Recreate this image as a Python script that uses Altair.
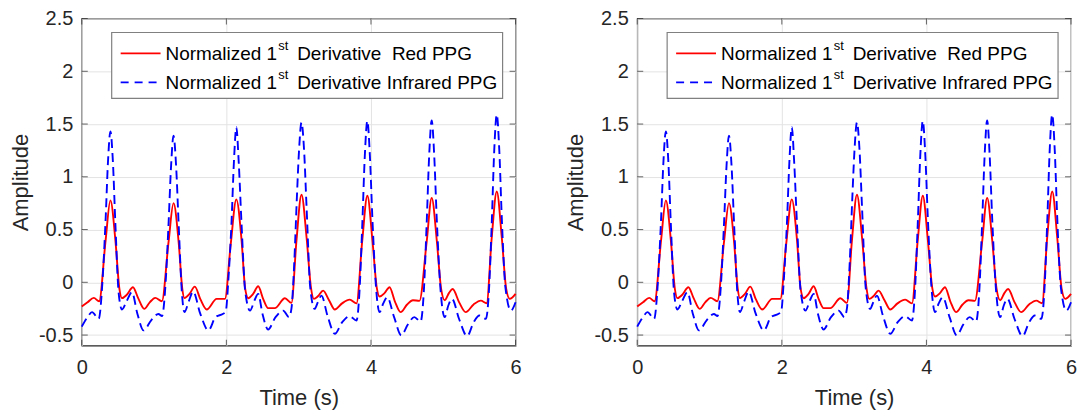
import altair as alt
import pandas as pd

# ---- data ----
red_t = [0.00, 0.08, 0.166, 0.24, 0.33, 0.396, 0.465, 0.52, 0.556, 0.62, 0.708, 0.78, 0.864, 0.94, 1.016, 1.108,
         1.20, 1.269, 1.34, 1.39, 1.42, 1.49, 1.564, 1.64, 1.728, 1.866, 1.98, 2.06, 2.138, 2.21, 2.26, 2.303,
         2.37, 2.44, 2.51, 2.577, 2.67, 2.81, 2.90, 2.97, 3.039, 3.11, 3.17, 3.21, 3.27, 3.338, 3.42, 3.50,
         3.60, 3.706, 3.80, 3.88, 3.95, 4.02, 4.08, 4.12, 4.19, 4.257, 4.33, 4.41, 4.50, 4.58, 4.67, 4.77,
         4.84, 4.91, 4.97, 5.02, 5.08, 5.13, 5.22, 5.31, 5.42, 5.52, 5.60, 5.67, 5.74, 5.81, 5.87, 5.92, 6.00]
red_v = [-0.23, -0.19, -0.148, -0.18, 0.40, 0.776, 0.40, -0.06, -0.15, -0.12, -0.047, -0.15, -0.252, -0.19, -0.148, -0.18,
         0.38, 0.75, 0.38, -0.06, -0.15, -0.11, -0.041, -0.16, -0.258, -0.157, -0.157, 0.36, 0.786, 0.40, -0.06, -0.151,
         -0.11, -0.038, -0.16, -0.245, -0.245, -0.151, -0.195, 0.40, 0.83, 0.42, -0.05, -0.157, -0.13, -0.079, -0.17, -0.258,
         -0.20, -0.164, -0.20, 0.40, 0.82, 0.40, -0.05, -0.135, -0.10, -0.047, -0.18, -0.283, -0.21, -0.17, -0.176, 0.38,
         0.80, 0.40, -0.06, -0.17, -0.10, -0.063, -0.19, -0.283, -0.21, -0.174, -0.198, 0.42, 0.86, 0.42, -0.06, -0.157, -0.11]

ir_t = [0.00, 0.08, 0.142, 0.234, 0.29, 0.33, 0.363, 0.396, 0.43, 0.465, 0.51, 0.556, 0.62, 0.694, 0.77, 0.855,
        0.96, 1.06, 1.11, 1.16, 1.20, 1.235, 1.269, 1.305, 1.34, 1.385, 1.42, 1.48, 1.54, 1.64, 1.752, 1.85,
        1.95, 1.99, 2.03, 2.07, 2.105, 2.138, 2.17, 2.21, 2.26, 2.327, 2.39, 2.44, 2.50, 2.577, 2.68, 2.786,
        2.865, 2.90, 2.94, 2.975, 3.005, 3.039, 3.075, 3.11, 3.16, 3.22, 3.27, 3.315, 3.40, 3.50, 3.60, 3.706,
        3.80, 3.84, 3.88, 3.915, 3.95, 3.985, 4.02, 4.07, 4.12, 4.17, 4.225, 4.32, 4.42, 4.51, 4.60, 4.686,
        4.73, 4.77, 4.805, 4.84, 4.875, 4.91, 4.96, 5.02, 5.07, 5.12, 5.22, 5.33, 5.42, 5.50, 5.59, 5.63,
        5.67, 5.705, 5.74, 5.775, 5.81, 5.86, 5.935, 6.00]
ir_v = [-0.42, -0.33, -0.283, -0.346, 0.05, 0.60, 1.15, 1.43, 1.15, 0.55, -0.10, -0.258, -0.18, -0.094, -0.30, -0.456,
        -0.36, -0.30, -0.32, 0.00, 0.55, 1.10, 1.39, 1.10, 0.55, -0.10, -0.283, -0.18, -0.088, -0.30, -0.456, -0.33,
        -0.30, -0.28, 0.05, 0.55, 1.15, 1.47, 1.15, 0.55, -0.08, -0.268, -0.17, -0.11, -0.30, -0.447, -0.33, -0.268,
        -0.33, -0.25, 0.20, 0.80, 1.25, 1.515, 1.25, 0.70, -0.05, -0.252, -0.18, -0.126, -0.32, -0.488, -0.38, -0.321,
        -0.362, -0.10, 0.55, 1.20, 1.53, 1.20, 0.60, -0.05, -0.283, -0.20, -0.142, -0.33, -0.503, -0.40, -0.33, -0.372,
        -0.10, 0.55, 1.20, 1.535, 1.20, 0.60, -0.05, -0.33, -0.22, -0.157, -0.35, -0.51, -0.38, -0.315, -0.346, -0.10,
        0.55, 1.25, 1.59, 1.25, 0.60, -0.05, -0.268, -0.189]

x_ticks = [0, 2, 4, 6]
y_ticks = [-0.5, 0, 0.5, 1, 1.5, 2, 2.5]
legend_head = "Normalized 1"
legend_sup = "st"
legend_mid = "Derivative"
legend_tail = ["Red PPG", "Infrared PPG"]

red_df = pd.DataFrame({"t": red_t, "v": red_v})
ir_df = pd.DataFrame({"t": ir_t, "v": ir_v})
xt_df = pd.DataFrame({"t": x_ticks})
yt_df = pd.DataFrame({"v": y_ticks})
one = pd.DataFrame({"k": [0]})

W, H = 435, 328
FONT = "Liberation Sans"
TXT = "#262626"
LFS = 19
DASH = [9, 5]


def panel():
    xs = alt.Scale(domain=[0, 6], nice=False)
    ys = alt.Scale(domain=[-0.6, 2.5], nice=False)
    xax = alt.Axis(values=x_ticks, title="Time (s)", labelExpr="toString(datum.value)")
    yax = alt.Axis(values=y_ticks, title="Amplitude", labelExpr="toString(datum.value)")
    X = lambda f: alt.X(f, scale=xs, axis=xax)
    Y = lambda f: alt.Y(f, scale=ys, axis=yax)
    red = alt.Chart(red_df).mark_line(color="#ff0000", strokeWidth=1.9, interpolate="monotone").encode(
        x=X("t:Q"), y=Y("v:Q"))
    blue = alt.Chart(ir_df).mark_line(color="#0000ff", strokeWidth=1.9, strokeDash=DASH,
                                      interpolate="monotone").encode(x=X("t:Q"), y=Y("v:Q"))
    tick_style = dict(color=TXT, thickness=1, size=6)
    tb = alt.Chart(xt_df).mark_tick(orient="vertical", **tick_style).encode(x=X("t:Q"), y=alt.value(H - 3))
    tt = alt.Chart(xt_df).mark_tick(orient="vertical", **tick_style).encode(x=X("t:Q"), y=alt.value(3))
    tl = alt.Chart(yt_df).mark_tick(orient="horizontal", **tick_style).encode(y=Y("v:Q"), x=alt.value(3))
    tr = alt.Chart(yt_df).mark_tick(orient="horizontal", **tick_style).encode(y=Y("v:Q"), x=alt.value(W - 3))
    box = alt.Chart(one).mark_rect(fill="white", stroke="#808080", strokeWidth=1.2).encode(
        x=alt.value(30), x2=alt.value(422), y=alt.value(14), y2=alt.value(80))
    s1 = alt.Chart(one).mark_rule(color="#ff0000", strokeWidth=1.7).encode(
        x=alt.value(39), x2=alt.value(79), y=alt.value(35))
    s2 = alt.Chart(one).mark_rule(color="#0000ff", strokeWidth=1.7, strokeDash=[8, 6]).encode(
        x=alt.value(39), x2=alt.value(79), y=alt.value(64))
    layers = [red, blue, tb, tt, tl, tr, box, s1, s2]

    def txt(s, x, y, size=LFS):
        return alt.Chart(one).mark_text(text=s, font=FONT, fontSize=size, color="black",
                                        align="left", baseline="middle").encode(x=alt.value(x), y=alt.value(y))

    for yy in (36, 65):
        layers.append(txt(legend_head, 84, yy))
        layers.append(txt(legend_sup, 197, yy - 8, 13))
    layers.append(txt(legend_mid, 216, 36))
    layers.append(txt(legend_tail[0], 311, 36))
    layers.append(txt(legend_mid + " " + legend_tail[1], 216, 65))
    return alt.layer(*layers).properties(width=W, height=H)


chart = alt.hconcat(panel(), panel(), spacing=41).properties(
    padding={"left": 8, "top": 7, "right": 0, "bottom": 0}
).configure_view(stroke=TXT, strokeWidth=1.2).configure_axis(
    domain=False, ticks=False, grid=True, gridColor="#e3e3e3", gridWidth=1, labelFlush=False,
    labelFont=FONT, titleFont=FONT, labelFontSize=20, titleFontSize=22,
    labelColor=TXT, titleColor=TXT, titleFontWeight="normal"
).configure_axisX(labelPadding=12, titlePadding=10).configure_axisY(labelPadding=9, titlePadding=6)

chart.save("out.html", embed_options={"renderer": "svg", "actions": False})
